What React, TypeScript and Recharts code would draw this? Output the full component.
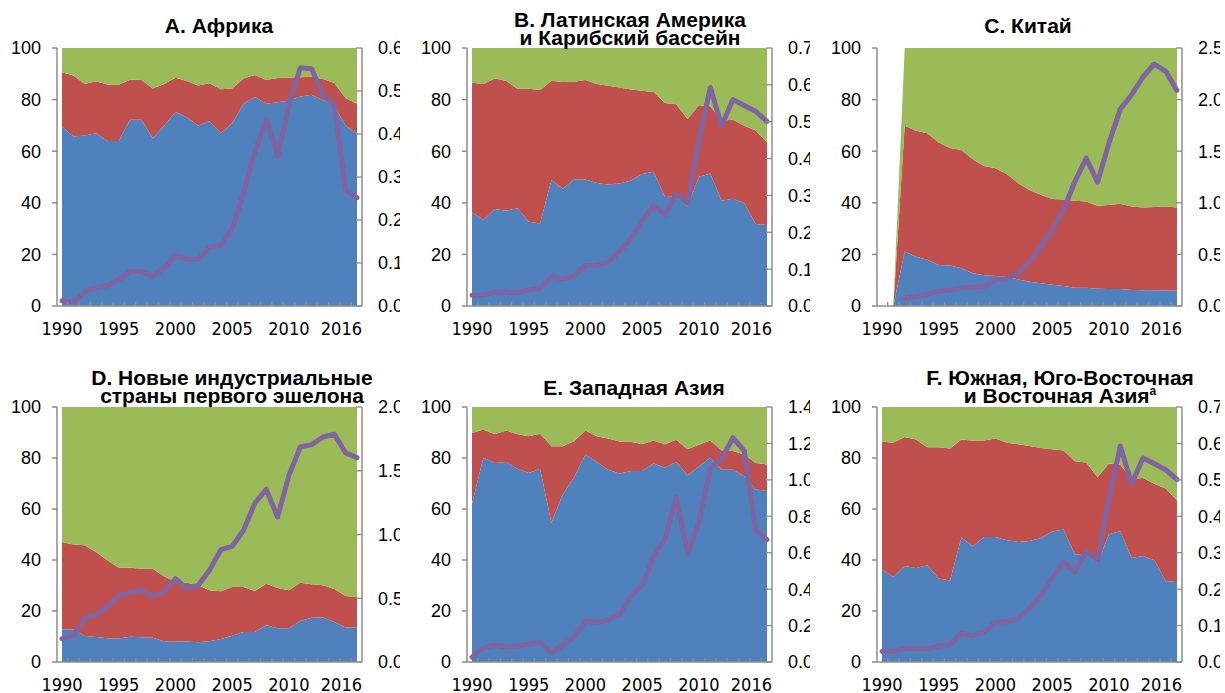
import React from "react";
import { ComposedChart, Area, Line, XAxis, YAxis } from "recharts";

// Shares of the three groups (%, stacked to 100) and the ratio series (right axis)
const years = [
  1990, 1991, 1992, 1993, 1994, 1995, 1996, 1997, 1998, 1999, 2000, 2001, 2002, 2003,
  2004, 2005, 2006, 2007, 2008, 2009, 2010, 2011, 2012, 2013, 2014, 2015, 2016,
];
const chinaYears = [
  1991, 1992, 1993, 1994, 1995, 1996, 1997, 1998, 1999, 2000, 2001, 2002, 2003, 2004,
  2005, 2006, 2007, 2008, 2009, 2010, 2011, 2012, 2013, 2014, 2015, 2016,
];
const labelYears = [1990, 1995, 2000, 2005, 2010, 2016];

// A. Африка
const africaBlue = [69.6, 65.7, 66.1, 67, 64, 64, 72.2, 72.2, 65, 69.9, 75.2, 73.2, 69.9, 71.7, 67, 70.9, 78.4, 81, 78.4, 79, 79.6, 81.2, 81.9, 79.7, 77.6, 69.9, 67];
const africaRed = [21.0, 23.6, 19.9, 20.1, 21.9, 21.8, 15.5, 15.4, 19.3, 16.1, 13.3, 14.0, 15.6, 14.6, 17.0, 13.4, 9.8, 8.5, 9.2, 9.4, 9.0, 7.5, 7.0, 8.3, 8.8, 10.6, 11.4];
const africaGreen = [9.4, 10.7, 14, 12.9, 14.1, 14.2, 12.3, 12.4, 15.7, 14, 11.5, 12.8, 14.5, 13.7, 16, 15.7, 11.8, 10.5, 12.4, 11.6, 11.4, 11.3, 11.1, 12, 13.6, 19.5, 21.6];
const africaRatio = [0.012, 0.01, 0.033, 0.043, 0.047, 0.061, 0.08, 0.08, 0.07, 0.089, 0.117, 0.109, 0.109, 0.137, 0.142, 0.179, 0.262, 0.359, 0.433, 0.348, 0.468, 0.554, 0.552, 0.491, 0.468, 0.269, 0.252];

// B. Латинская Америка и Карибский бассейн
const latamBlue = [36.3, 33.3, 37.6, 36.9, 37.9, 32.7, 32, 48.8, 45.4, 49, 49, 47.7, 47.1, 47.5, 48.6, 51.2, 52, 42.2, 42.5, 38.6, 50.1, 51.4, 40.8, 41.6, 39.9, 31.8, 31.4];
const latamRed = [50.2, 52.7, 50.6, 50.4, 46.3, 51.5, 51.7, 38.5, 41.4, 37.9, 38.6, 38.3, 38.3, 37.2, 35.3, 32.2, 30.9, 36.5, 35.7, 33.9, 27.7, 26.0, 31.1, 30.6, 30.0, 36.2, 32.0];
const latamGreen = [13.5, 14, 11.8, 12.7, 15.8, 15.8, 16.3, 12.7, 13.2, 13.1, 12.4, 14, 14.6, 15.3, 16.1, 16.6, 17.1, 21.3, 21.8, 27.5, 22.2, 22.6, 28.1, 27.8, 30.1, 32, 36.6];
const latamRatio = [0.029, 0.03, 0.037, 0.037, 0.036, 0.044, 0.048, 0.08, 0.073, 0.082, 0.11, 0.11, 0.119, 0.148, 0.183, 0.229, 0.274, 0.247, 0.304, 0.279, 0.448, 0.593, 0.489, 0.56, 0.544, 0.528, 0.501];

// C. Китай (from 1991)
const chinaBlue = [0, 21.1, 19.1, 17.9, 15.9, 15.7, 14.6, 12.7, 11.9, 11.6, 11.4, 10.3, 9.4, 8.8, 8.2, 7.8, 7.1, 7.1, 6.7, 6.6, 6.6, 6.2, 6.1, 6.1, 6, 6.1];
const chinaRed = [0, 48.8, 48.8, 49.1, 47.5, 45.5, 45.9, 44.2, 42.4, 41.8, 39.8, 37.3, 35.6, 34.3, 33.3, 33.5, 33.7, 33.4, 32.2, 32.5, 33.0, 32.4, 32.1, 32.3, 32.6, 32.1];
const chinaGreen = [0, 30.1, 32.1, 33, 36.6, 38.8, 39.5, 43.1, 45.7, 46.6, 48.8, 52.4, 55, 56.9, 58.5, 58.7, 59.2, 59.5, 61.1, 60.9, 60.4, 61.4, 61.8, 61.6, 61.4, 61.8];
const chinaRatio = [null, 0.081, 0.091, 0.116, 0.146, 0.149, 0.178, 0.181, 0.188, 0.252, 0.265, 0.317, 0.43, 0.576, 0.737, 0.931, 1.206, 1.433, 1.2, 1.578, 1.908, 2.047, 2.219, 2.345, 2.274, 2.089];

// D. Новые индустриальные страны первого эшелона
const nicsBlue = [12.7, 12.7, 10.2, 9.8, 9.3, 9.2, 9.9, 9.7, 9.5, 8.1, 8, 8, 7.7, 8.1, 9, 10.3, 11.8, 11.8, 14.4, 13.2, 13.2, 16.1, 17.4, 17.5, 15.7, 13.5, 13.5];
const nicsRed = [34.4, 33.4, 35.6, 33.3, 30.6, 27.8, 27.1, 26.9, 27.1, 25.5, 23.4, 23.1, 22.4, 20.0, 18.7, 19.1, 17.6, 16.0, 16.3, 15.8, 14.9, 15.0, 13.1, 12.6, 12.9, 12.4, 12.0];
const nicsGreen = [52.9, 53.9, 54.2, 56.9, 60.1, 63, 63, 63.4, 63.4, 66.4, 68.6, 68.9, 69.9, 71.9, 72.3, 70.6, 70.6, 72.2, 69.3, 71, 71.9, 68.9, 69.5, 69.9, 71.4, 74.1, 74.5];
const nicsRatio = [0.183, 0.201, 0.345, 0.371, 0.437, 0.523, 0.544, 0.562, 0.518, 0.549, 0.654, 0.575, 0.601, 0.719, 0.881, 0.907, 1.033, 1.247, 1.354, 1.137, 1.464, 1.686, 1.705, 1.765, 1.786, 1.639, 1.603];

// E. Западная Азия
const westAsiaBlue = [62.1, 80.1, 78, 78.4, 75.8, 74.1, 75.8, 54.5, 65.8, 72.5, 81.4, 78.4, 75.4, 73.9, 74.9, 74.9, 77.8, 76.2, 78.4, 73.2, 76.7, 80.1, 75.4, 75.4, 72.8, 67.6, 67.1];
const westAsiaRed = [27.7, 11.1, 11.3, 12.4, 13.5, 14.4, 13.7, 30.1, 18.8, 14.2, 9.4, 10.1, 12.2, 12.6, 11.5, 10.5, 9.1, 9.2, 8.8, 10.2, 8.5, 6.8, 7.6, 7.3, 8.6, 10.4, 10.4];
const westAsiaGreen = [10.2, 8.8, 10.7, 9.2, 10.7, 11.5, 10.5, 15.4, 15.4, 13.3, 9.2, 11.5, 12.4, 13.5, 13.6, 14.6, 13.1, 14.6, 12.8, 16.6, 14.8, 13.1, 17, 17.3, 18.6, 22, 22.5];
const westAsiaRatio = [0.027, 0.077, 0.092, 0.082, 0.088, 0.097, 0.106, 0.053, 0.092, 0.137, 0.225, 0.216, 0.232, 0.262, 0.361, 0.421, 0.577, 0.672, 0.906, 0.595, 0.769, 1.062, 1.116, 1.232, 1.158, 0.723, 0.672];

// F. Южная, Юго-Восточная и Восточная Азия (same picture as panel B in the source)
const eastAsiaBlue = [36.3, 33.3, 37.6, 36.9, 37.9, 32.7, 32, 48.8, 45.4, 49, 49, 47.7, 47.1, 47.5, 48.6, 51.2, 52, 42.2, 42.5, 38.6, 50.1, 51.4, 40.8, 41.6, 39.9, 31.8, 31.4];
const eastAsiaRed = [50.2, 52.7, 50.6, 50.4, 46.3, 51.5, 51.7, 38.5, 41.4, 37.9, 38.6, 38.3, 38.3, 37.2, 35.3, 32.2, 30.9, 36.5, 35.7, 33.9, 27.7, 26.0, 31.1, 30.6, 30.0, 36.2, 32.0];
const eastAsiaGreen = [13.5, 14, 11.8, 12.7, 15.8, 15.8, 16.3, 12.7, 13.2, 13.1, 12.4, 14, 14.6, 15.3, 16.1, 16.6, 17.1, 21.3, 21.8, 27.5, 22.2, 22.6, 28.1, 27.8, 30.1, 32, 36.6];
const eastAsiaRatio = [0.029, 0.03, 0.037, 0.037, 0.036, 0.044, 0.048, 0.08, 0.073, 0.082, 0.11, 0.11, 0.119, 0.148, 0.183, 0.229, 0.274, 0.247, 0.304, 0.279, 0.448, 0.593, 0.489, 0.56, 0.544, 0.528, 0.501];

const colors = {
  blue: "#4F81BD",
  red: "#C0504D",
  green: "#9BBB59",
  purple: "#8064A2",
  axis: "#8C8C8C",
};
const font = "'Liberation Sans', Arial, sans-serif";
const narrowFont = "'Liberation Sans Narrow', 'Arial Narrow', 'DejaVu Sans Condensed', sans-serif";

// minor tick marks sit between the categories
const minorTicks = years.slice(0, -1).map((y) => y + 0.5);
const xTicks = [...labelYears, ...minorTicks].sort((a, b) => a - b);

function makeRows(yrs: number[], blue: number[], red: number[], green: number[], ratio: (number | null)[]) {
  return yrs.map((year, i) => ({ year, blue: blue[i], red: red[i], green: green[i], ratio: ratio[i] }));
}

const XTick = (props: any) => {
  const { x, y, payload } = props;
  const v = payload.value;
  if (!labelYears.includes(v)) {
    return <line x1={x} x2={x} y1={y} y2={y - 4} stroke={colors.axis} strokeWidth={1.3} />;
  }
  const last = v === labelYears[labelYears.length - 1];
  return (
    <text
      x={last ? x + 5 : x}
      y={y + 29}
      textAnchor={last ? "end" : "middle"}
      fill="#000"
      fontSize={18}
      fontFamily={narrowFont}
    >
      {v}
    </text>
  );
};

const RightTick = (props: any) => {
  const { x, y, payload } = props;
  return (
    <g>
      <line x1={x - 6} x2={x} y1={y} y2={y} stroke={colors.axis} strokeWidth={1.3} />
      <text x={x + 16} y={y} dy="0.36em" textAnchor="start" fill="#000" fontSize={18} fontFamily={font}>
        {payload.value.toFixed(1)}
      </text>
    </g>
  );
};

interface PanelProps {
  col: number;
  row: number;
  data: any[];
  rightMax: number;
  rightTicks: number[];
}

function Panel({ col, row, data, rightMax, rightTicks }: PanelProps) {
  const left = col * 410;
  const top = row === 0 ? 0 : 350;
  const height = row === 0 ? 350 : 343;
  const marginTop = row === 0 ? 48 : 57;
  const xHeight = row === 0 ? 44 : 31;
  return (
    <div style={{ position: "absolute", left, top, width: 400, height, overflow: "hidden" }}>
      <ComposedChart width={400} height={height} data={data} margin={{ top: marginTop, right: 0, bottom: 0, left: 0 }}>
        <XAxis
          dataKey="year"
          type="number"
          domain={[1990, 2016]}
          ticks={xTicks}
          interval={0}
          padding={{ left: 5, right: 5 }}
          tickSize={0}
          tickMargin={0}
          tickLine={false}
          tick={<XTick />}
          height={xHeight}
          stroke={colors.axis}
          strokeWidth={1.5}
        />
        <YAxis
          yAxisId="share"
          domain={[0, 100]}
          ticks={[0, 20, 40, 60, 80, 100]}
          width={57}
          tickSize={5}
          tickMargin={11}
          stroke={colors.axis}
          strokeWidth={1.5}
          tick={{ fill: "#000", fontSize: 18, fontFamily: font }}
        />
        <YAxis
          yAxisId="ratio"
          orientation="right"
          domain={[0, rightMax]}
          ticks={rightTicks}
          width={38}
          tickSize={0}
          tickMargin={0}
          tickLine={false}
          tick={<RightTick />}
          stroke={colors.axis}
          strokeWidth={1.5}
        />
        <Area yAxisId="share" stackId="s" dataKey="blue" type="linear" fill={colors.blue} fillOpacity={1} stroke="none" isAnimationActive={false} />
        <Area yAxisId="share" stackId="s" dataKey="red" type="linear" fill={colors.red} fillOpacity={1} stroke="none" isAnimationActive={false} />
        <Area yAxisId="share" stackId="s" dataKey="green" type="linear" fill={colors.green} fillOpacity={1} stroke="none" isAnimationActive={false} />
        <Line
          yAxisId="ratio"
          dataKey="ratio"
          type="linear"
          stroke={colors.purple}
          strokeWidth={5}
          strokeLinejoin="round"
          strokeLinecap="round"
          dot={false}
          isAnimationActive={false}
        />
      </ComposedChart>
    </div>
  );
}

const Title = ({ cx, baseline, children }: { cx: number; baseline: number; children: React.ReactNode }) => (
  <div
    style={{
      position: "absolute",
      left: cx - 200,
      top: baseline - 16.3,
      width: 400,
      textAlign: "center",
      fontFamily: font,
      fontWeight: "bold",
      fontSize: 21,
      lineHeight: "18px",
      color: "#000",
      whiteSpace: "nowrap",
    }}
  >
    {children}
  </div>
);

export default function App() {
  return (
    <div style={{ position: "absolute", left: 0, top: 0, width: 1225, height: 693, background: "#fff", overflow: "hidden" }}>
      <Panel col={0} row={0} data={makeRows(years, africaBlue, africaRed, africaGreen, africaRatio)} rightMax={0.6} rightTicks={[0, 0.1, 0.2, 0.3, 0.4, 0.5, 0.6]} />
      <Panel col={1} row={0} data={makeRows(years, latamBlue, latamRed, latamGreen, latamRatio)} rightMax={0.7} rightTicks={[0, 0.1, 0.2, 0.3, 0.4, 0.5, 0.6, 0.7]} />
      <Panel col={2} row={0} data={makeRows(chinaYears, chinaBlue, chinaRed, chinaGreen, chinaRatio)} rightMax={2.5} rightTicks={[0, 0.5, 1, 1.5, 2, 2.5]} />
      <Panel col={0} row={1} data={makeRows(years, nicsBlue, nicsRed, nicsGreen, nicsRatio)} rightMax={2} rightTicks={[0, 0.5, 1, 1.5, 2]} />
      <Panel col={1} row={1} data={makeRows(years, westAsiaBlue, westAsiaRed, westAsiaGreen, westAsiaRatio)} rightMax={1.4} rightTicks={[0, 0.2, 0.4, 0.6, 0.8, 1, 1.2, 1.4]} />
      <Panel col={2} row={1} data={makeRows(years, eastAsiaBlue, eastAsiaRed, eastAsiaGreen, eastAsiaRatio)} rightMax={0.7} rightTicks={[0, 0.1, 0.2, 0.3, 0.4, 0.5, 0.6, 0.7]} />

      <Title cx={219} baseline={33}>A. Африка</Title>
      <Title cx={630} baseline={27}>
        <div>B. Латинская Америка</div>
        <div>и Карибский бассейн</div>
      </Title>
      <Title cx={1028} baseline={33}>C. Китай</Title>
      <Title cx={232} baseline={385}>
        <div>D. Новые индустриальные</div>
        <div>страны первого эшелона</div>
      </Title>
      <Title cx={634} baseline={395}>E. Западная Азия</Title>
      <Title cx={1060} baseline={385}>
        <div>F. Южная, Юго-Восточная</div>
        <div>
          и Восточная Азия
          <sup style={{ fontSize: 12, lineHeight: 0, verticalAlign: "8px" }}>a</sup>
        </div>
      </Title>
    </div>
  );
}
